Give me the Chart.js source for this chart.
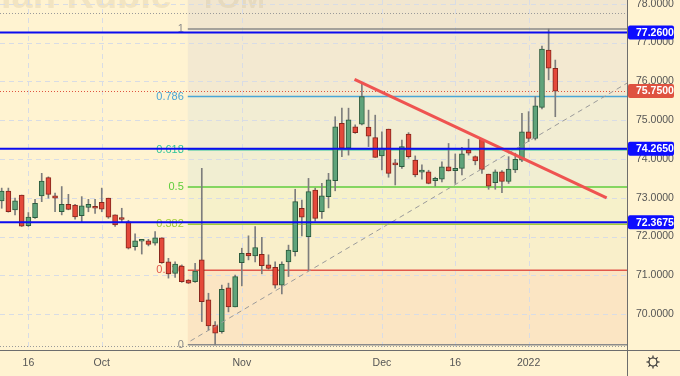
<!DOCTYPE html>
<html>
<head>
<meta charset="utf-8">
<script src="https://cdn.jsdelivr.net/npm/chart.js@4.4.1/dist/chart.umd.min.js"></script>
<style>
  html, body { margin: 0; padding: 0; background: #fff3d1; }
  canvas { display: block; }
</style>
</head>
<body>
<canvas id="chart" width="680" height="376"></canvas>
<script>
// daily candles, Sep 10 2021 .. Jan 2022 (index = trading day)
const opens  = [72.92,73.17,72.69,73.07,72.28,72.49,73.05,73.52,73.05,72.64,72.83,72.81,72.54,72.75,72.77,72.88,72.99,72.56,72.46,72.38,
                71.74,71.88,71.89,71.83,71.97,71.35,71.05,71.24,70.88,70.84,71.40,70.37,69.72,69.55,70.68,70.19,71.33,71.57,71.50,71.54,
                71.27,71.21,70.75,71.35,71.61,72.73,72.00,73.20,72.64,73.03,73.44,74.92,74.28,74.83,74.90,74.82,74.55,74.08,74.77,73.86,
                73.80,74.64,73.97,73.66,73.67,73.44,73.48,73.80,73.70,73.76,74.23,74.06,74.51,73.61,73.39,73.67,73.42,73.72,73.97,74.70,
                74.53,75.33,76.81,76.34];
const highs  = [73.25,73.25,72.99,73.07,72.62,72.96,73.63,73.54,73.12,73.29,73.09,72.83,73.03,72.96,72.96,73.25,72.99,72.56,72.73,72.42,
                72.07,71.90,71.93,72.13,71.97,71.44,71.35,71.27,70.89,71.31,73.76,70.54,69.81,70.75,70.80,71.01,71.70,72.02,72.26,71.98,
                71.53,71.35,71.35,71.78,73.22,72.94,73.50,73.25,73.37,73.63,75.09,75.31,75.31,74.88,75.95,75.26,75.13,74.70,74.77,73.99,
                74.49,74.68,74.08,73.85,73.71,73.53,73.93,74.40,74.13,74.30,74.51,74.08,74.53,73.61,73.72,73.70,74.06,74.15,75.18,75.22,
                75.61,76.91,77.35,76.55];
const lows   = [72.73,72.63,72.56,72.26,72.26,72.47,72.90,72.99,72.64,72.56,72.69,72.45,72.38,72.64,72.60,72.64,72.47,72.26,72.38,71.68,
                71.65,71.55,71.76,71.78,71.31,70.93,70.95,70.82,70.79,70.82,69.81,69.59,69.21,69.51,70.06,70.19,70.73,71.40,71.35,71.04,
                71.16,70.67,70.52,70.97,71.50,72.02,71.14,72.40,72.47,72.74,73.18,74.06,74.10,74.66,74.88,74.32,74.04,73.72,73.53,73.33,
                73.76,74.02,73.54,73.48,73.36,73.30,73.41,73.69,73.37,73.59,74.10,73.85,73.63,73.22,73.22,73.13,73.37,73.65,73.93,74.45,
                74.49,75.29,76.04,75.09];
const closes = [73.17,72.64,72.92,72.27,72.50,72.86,73.43,73.09,72.99,72.83,72.70,72.51,72.79,72.83,72.73,72.71,72.50,72.30,72.44,71.70,
                71.89,71.89,71.80,71.97,71.33,71.04,71.29,70.84,70.80,71.11,70.32,69.70,69.51,70.64,70.19,70.97,71.57,71.50,71.72,71.25,
                71.18,70.75,71.29,71.65,72.90,72.50,73.16,72.47,73.05,73.46,74.83,74.28,75.01,74.68,75.61,74.59,74.04,74.28,73.63,73.85,
                74.32,74.06,73.59,73.70,73.37,73.50,73.80,73.69,73.76,74.13,74.15,73.95,73.73,73.30,73.67,73.42,73.74,73.99,74.70,74.53,
                75.37,76.83,76.34,75.75];

const dateTicks  = [4, 15, 36, 57, 68, 79];
const dateLabels = ['16', 'Oct', 'Nov', 'Dec', '16', '2022'];
const priceTicks = [70, 71, 72, 73, 74, 75, 76, 77, 78];

const keyLevels    = [77.26, 74.265, 72.3675];
const dottedLevels = [77.76, 69.19];
const fibRatios = [1, 0.786, 0.618, 0.5, 0.382, 0.236, 0];
const fibLabels = ['1', '0.786', '0.618', '0.5', '0.382', '0.236', '0'];
const fibStart  = 27.9;
const redTrend  = [[52.9, 76.05], [90.7, 73.00]];
const grayTrend = [[28.3, 69.31], [93.8, 75.96]];

const fibColors  = ['#8a8a8a', '#4aa6d6', '#2fc39a', '#5fcd3c', '#a2cc36', '#e2574a', '#8a8a8a'];
const bandColors = ['#f1e6cf', '#f3e9d1', '#f2edd3', '#f1eed2', '#f6f1ca', '#f9efca', '#fbe5c3'];
const FONT = "'Liberation Sans', Arial, sans-serif";

const idx = closes.map((c, i) => i);
const lastPrice = closes[closes.length - 1];

// everything that is not a candle
const overlay = {
  id: 'overlay',
  beforeDraw(chart) {
    const { ctx, chartArea: a, scales: { x, y } } = chart;
    ctx.save();
    ctx.fillStyle = '#fff3d1';
    ctx.fillRect(0, 0, chart.width, chart.height);

    // fib bands
    const lo = Math.min(...lows), hi = Math.max(...highs);
    const lvl = r => y.getPixelForValue(lo + (hi - lo) * r);
    const fx = x.getPixelForValue(fibStart);
    ctx.fillStyle = bandColors[0];
    ctx.fillRect(fx, a.top, a.right - fx, lvl(1) - a.top);
    for (let k = 0; k < fibRatios.length - 1; k++) {
      ctx.fillStyle = bandColors[k + 1];
      ctx.fillRect(fx, lvl(fibRatios[k]), a.right - fx, lvl(fibRatios[k + 1]) - lvl(fibRatios[k]));
    }

    // watermark, mostly off the top edge
    ctx.font = "bold 38px " + FONT;
    ctx.fillStyle = 'rgba(190,170,130,0.2)';
    ctx.textBaseline = 'alphabetic';
    ctx.textAlign = 'right';
    ctx.fillText('US Dollar / Russian Ruble', 172, 8);
    ctx.font = "bold 30px " + FONT;
    ctx.textAlign = 'left';
    ctx.fillText('TOM', 199, 8);

    // grid
    ctx.strokeStyle = '#d8dce5';
    ctx.lineWidth = 1;
    ctx.setLineDash([5, 4]);
    dateTicks.forEach(v => {
      const px = Math.round(x.getPixelForValue(v)) + 0.5;
      ctx.beginPath(); ctx.moveTo(px, a.top); ctx.lineTo(px, a.bottom); ctx.stroke();
    });
    priceTicks.forEach(v => {
      const py = Math.round(y.getPixelForValue(v)) + 0.5;
      ctx.beginPath(); ctx.moveTo(a.left, py); ctx.lineTo(a.right, py); ctx.stroke();
    });
    ctx.setLineDash([]);

    // fib levels
    ctx.font = "11px " + FONT;
    ctx.textAlign = 'right';
    ctx.textBaseline = 'middle';
    fibRatios.forEach((r, k) => {
      const py = lvl(r);
      ctx.strokeStyle = fibColors[k];
      ctx.lineWidth = 1.5;
      ctx.beginPath(); ctx.moveTo(fx, py); ctx.lineTo(a.right, py); ctx.stroke();
      ctx.fillStyle = fibColors[k];
      ctx.fillText(fibLabels[k], fx - 4, py);
    });

    // dotted levels
    ctx.lineWidth = 1;
    ctx.setLineDash([1, 2]);
    ctx.strokeStyle = '#9a9a9a';
    dottedLevels.forEach(v => {
      const py = Math.round(y.getPixelForValue(v)) + 0.5;
      ctx.beginPath(); ctx.moveTo(a.left, py); ctx.lineTo(a.right, py); ctx.stroke();
    });
    ctx.strokeStyle = '#e0533f';
    const lp = Math.round(y.getPixelForValue(lastPrice)) + 0.5;
    ctx.beginPath(); ctx.moveTo(a.left, lp); ctx.lineTo(a.right, lp); ctx.stroke();
    ctx.setLineDash([]);
    ctx.restore();
  },
  afterDatasetsDraw(chart) {
    const { ctx, chartArea: a, scales: { x, y } } = chart;
    ctx.save();
    ctx.beginPath(); ctx.rect(a.left, a.top, a.right - a.left, a.bottom - a.top); ctx.clip();

    // gray dashed trend
    ctx.strokeStyle = '#9b9b9b';
    ctx.lineWidth = 1;
    ctx.setLineDash([5, 4]);
    ctx.beginPath();
    ctx.moveTo(x.getPixelForValue(grayTrend[0][0]), y.getPixelForValue(grayTrend[0][1]));
    ctx.lineTo(x.getPixelForValue(grayTrend[1][0]), y.getPixelForValue(grayTrend[1][1]));
    ctx.stroke();
    ctx.setLineDash([]);

    // red trend
    ctx.strokeStyle = '#ef5350';
    ctx.lineWidth = 3;
    ctx.beginPath();
    ctx.moveTo(x.getPixelForValue(redTrend[0][0]), y.getPixelForValue(redTrend[0][1]));
    ctx.lineTo(x.getPixelForValue(redTrend[1][0]), y.getPixelForValue(redTrend[1][1]));
    ctx.stroke();

    // key horizontal levels
    ctx.strokeStyle = '#0b0bef';
    ctx.lineWidth = 2;
    keyLevels.forEach(v => {
      const py = y.getPixelForValue(v);
      ctx.beginPath(); ctx.moveTo(a.left, py); ctx.lineTo(a.right, py); ctx.stroke();
    });
    ctx.restore();

    // price boxes on the axis
    ctx.save();
    ctx.font = "bold 10.5px " + FONT;
    ctx.textAlign = 'left';
    ctx.textBaseline = 'middle';
    const box = (v, col) => {
      const py = y.getPixelForValue(v);
      ctx.fillStyle = col;
      ctx.beginPath();
      ctx.roundRect(a.right + 1, py - 7, 46, 14, 2);
      ctx.fill();
      ctx.fillStyle = '#ffffff';
      ctx.fillText(v.toFixed(4), a.right + 9, py + 0.5);
    };
    keyLevels.forEach(v => box(v, '#0d0dff'));
    box(lastPrice, '#df5240');

    // axis borders
    ctx.strokeStyle = '#6d6d6d';
    ctx.lineWidth = 1;
    ctx.beginPath();
    ctx.moveTo(a.right + 0.5, 0); ctx.lineTo(a.right + 0.5, chart.height);
    ctx.moveTo(0, a.bottom + 0.5); ctx.lineTo(chart.width, a.bottom + 0.5);
    ctx.stroke();

    // settings gear
    const gx = 653, gy = 362;
    ctx.strokeStyle = '#333';
    ctx.lineWidth = 1.2;
    ctx.beginPath(); ctx.arc(gx, gy, 4, 0, Math.PI * 2); ctx.stroke();
    for (let k = 0; k < 8; k++) {
      const t = k * Math.PI / 4;
      ctx.beginPath();
      ctx.moveTo(gx + Math.cos(t) * 4, gy + Math.sin(t) * 4);
      ctx.lineTo(gx + Math.cos(t) * 6.5, gy + Math.sin(t) * 6.5);
      ctx.stroke();
    }
    ctx.restore();
  }
};

const up = i => closes[i] >= opens[i];

new Chart(document.getElementById('chart'), {
  type: 'bar',
  data: {
    datasets: [{
      label: 'wicks',
      data: idx.map(i => ({ x: i, y: [lows[i], highs[i]] })),
      backgroundColor: '#7d7d7d',
      barThickness: 1,
      grouped: false,
      order: 2
    }, {
      label: 'bodies',
      data: idx.map(i => ({ x: i, y: [opens[i], closes[i]] })),
      backgroundColor: c => up(c.dataIndex) ? '#5fa37a' : '#e4493a',
      borderColor: c => up(c.dataIndex) ? '#2c5b3d' : '#85261c',
      borderWidth: 1,
      borderSkipped: false,
      barThickness: 5,
      minBarLength: 2,
      grouped: false,
      order: 1
    }]
  },
  options: {
    responsive: false,
    devicePixelRatio: 1,
    animation: false,
    layout: { padding: 0 },
    plugins: { legend: { display: false }, tooltip: { enabled: false } },
    scales: {
      x: {
        type: 'linear',
        min: -0.255,
        max: 93.75,
        offset: false,
        grid: { display: false, drawTicks: false },
        border: { display: false },
        afterBuildTicks: s => { s.ticks = dateTicks.map(v => ({ value: v })); },
        afterFit: s => { s.height = 26; s.paddingLeft = 0; s.paddingRight = 0; },
        ticks: {
          autoSkip: false, maxRotation: 0, padding: 7, color: '#555',
          font: { family: FONT, size: 10.5 },
          callback: v => dateLabels[dateTicks.indexOf(v)]
        }
      },
      y: {
        position: 'right',
        min: 69.077,
        max: 78.098,
        grid: { display: false, drawTicks: false },
        border: { display: false },
        afterBuildTicks: s => { s.ticks = priceTicks.map(v => ({ value: v })); },
        afterFit: s => { s.width = 53; s.paddingTop = 0; s.paddingBottom = 0; },
        ticks: {
          padding: 9, color: '#555',
          font: { family: FONT, size: 10.5 },
          callback: v => Number(v).toFixed(4)
        }
      }
    }
  },
  plugins: [overlay]
});
</script>
</body>
</html>
